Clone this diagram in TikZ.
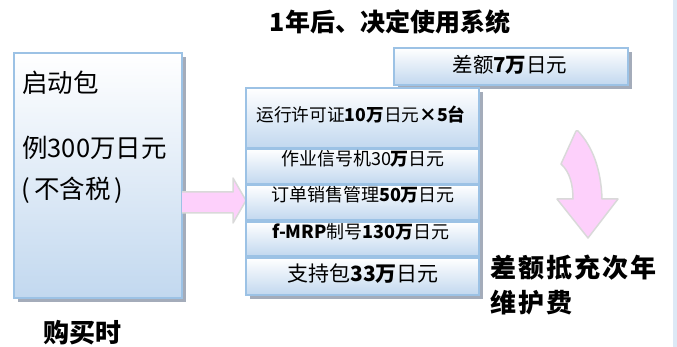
\documentclass[tikz,border=0pt]{standalone}
\usepackage{fontspec}
\setmainfont{Noto Sans CJK SC}
\usetikzlibrary{shadows}
\definecolor{boxbot}{HTML}{C2D8EF}
\definecolor{bordc}{HTML}{9CC2E5}
\definecolor{shadc}{HTML}{A4ACBA}
\definecolor{pinkc}{HTML}{FDD0FB}
\definecolor{pedge}{HTML}{D9D9D9}
\definecolor{stripc}{HTML}{DDE9F6}
\tikzset{
  gbox/.style={draw=bordc, line width=1.8pt, top color=white, bottom color=boxbot, inner sep=0pt, anchor=north west},
  shd/.style={drop shadow={shadow xshift=4pt, shadow yshift=-4pt, fill=shadc, opacity=1}},
  pinkarrow/.style={fill=pinkc, draw=pedge, line width=1.5pt, line join=round},
  txt/.style={inner sep=0pt, text=black},
}
\begin{document}
\begin{tikzpicture}[x=1pt,y=-1pt]
\useasboundingbox (0,0) rectangle (677,347);
\fill[stripc] (673,0) rectangle (677,347);
% title
\node[txt, font=\fontsize{25}{28}\selectfont\bfseries] (title) at (390,22) {1年后、决定使用系统};
% top box
\node[gbox, shd, minimum width=234pt, minimum height=37pt] (diff) at (393,47) {};
\node[txt, font=\fontsize{20.5}{24}\selectfont] (difft) at (510,65) {差额\textbf{7万}日元};
% left box
\node[gbox, shd, minimum width=168pt, minimum height=245pt] (lb) at (13,52) {};
\node[txt, anchor=west, font=\fontsize{25.5}{28}\selectfont] (l1) at (22,83) {启动包};
\node[txt, anchor=west, font=\fontsize{25.5}{28}\selectfont] (l2) at (22,148) {例300万日元};
\node[txt, anchor=west, font=\fontsize{25.5}{28}\selectfont] (l3) at (21,190) {(\,不含税\,)};
% right arrow
\draw[pinkarrow] (182,192) -- (233,192) -- (233,178) -- (246,200.5) -- (233,223) -- (233,213) -- (182,213);
% stack
\node[gbox, shd, minimum width=233pt, minimum height=207pt] (stack) at (245,87) {};
\node[gbox, minimum width=233pt, minimum height=60pt] (r1) at (245,87) {};
\node[gbox, minimum width=233pt, minimum height=35pt] (r2) at (245,148) {};
\node[gbox, minimum width=233pt, minimum height=35pt] (r3) at (245,184) {};
\node[gbox, minimum width=233pt, minimum height=34pt] (r4) at (245,221) {};
\node[gbox, minimum width=233pt, minimum height=37pt] (r5) at (245,257) {};
\node[txt, font=\fontsize{17.7}{20}\selectfont] (t1) at (361,115) {运行许可证\textbf{10万}日元\textbf{×5台}};
\node[txt, font=\fontsize{18}{20}\selectfont] (t2) at (363,159) {作业信号机30\textbf{万}日元};
\node[txt, font=\fontsize{18}{20}\selectfont] (t3) at (363,195) {订单销售管理\textbf{50万}日元};
\node[txt, font=\fontsize{18}{20}\selectfont] (t4) at (361,232) {\textbf{f-MRP}制号\textbf{130万}日元};
\node[txt, font=\fontsize{21}{24}\selectfont] (t5) at (363,274) {支持包\textbf{33万}日元};
% curved arrow
\draw[pinkarrow] (576,131) -- (561,164) .. controls (570,172) and (573,185) .. (573,199)
  -- (557,199) -- (588,238) -- (618,199) -- (602,199)
  .. controls (601,168) and (592,146) .. (578,131) -- cycle;
% texts
\node[txt, anchor=west, font=\fontsize{26}{30}\selectfont\bfseries\addfontfeature{LetterSpace=8}] (n1) at (490,268) {差额抵充次年};
\node[txt, anchor=west, font=\fontsize{26}{30}\selectfont\bfseries\addfontfeature{LetterSpace=8}] (n2) at (490,303) {维护费};
\node[txt, anchor=west, font=\fontsize{26}{28}\selectfont\bfseries] (buy) at (43,333) {购买时};
\end{tikzpicture}
\end{document}
